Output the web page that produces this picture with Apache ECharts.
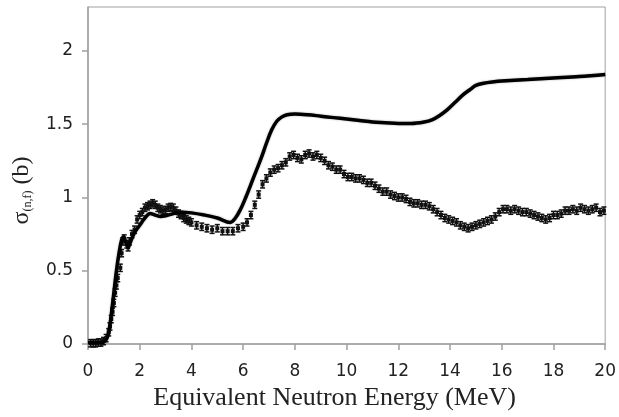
<!DOCTYPE html>
<html>
<head>
<meta charset="utf-8">
<script src="https://cdn.jsdelivr.net/npm/echarts@6/dist/echarts.min.js"></script>
<style>html,body{margin:0;padding:0;background:#fff}#c{width:619px;height:417px}</style>
</head>
<body>
<div id="c"></div>
<script>
// Evaluated cross-section curve (MeV, barn)
const curveE = [0,0.5,0.7,0.8,0.9,1.0,1.1,1.2,1.3,1.38,1.45,1.55,1.65,1.8,2.0,2.2,2.4,2.6,2.8,3.0,3.3,3.6,4.0,4.5,5.0,5.5,5.7,5.9,6.1,6.3,6.5,6.7,6.9,7.1,7.3,7.5,7.7,8.0,8.5,9.0,9.5,10,10.5,11,11.5,12,12.5,13,13.3,13.6,13.9,14.2,14.5,14.8,15.0,15.3,15.7,16,17,18,19,20];
const curveS = [0.01,0.01,0.03,0.08,0.2,0.35,0.5,0.62,0.71,0.73,0.70,0.66,0.70,0.76,0.81,0.86,0.89,0.88,0.87,0.875,0.89,0.90,0.895,0.88,0.86,0.83,0.86,0.92,1.0,1.09,1.18,1.27,1.37,1.46,1.52,1.55,1.565,1.57,1.565,1.555,1.545,1.535,1.525,1.515,1.51,1.505,1.505,1.515,1.53,1.56,1.60,1.65,1.70,1.74,1.765,1.78,1.79,1.795,1.805,1.815,1.825,1.84];

// Measured points with error bars
const expE = [0.1,0.2,0.3,0.4,0.5,0.6,0.7,0.8,0.85,0.9,0.95,1.0,1.05,1.1,1.15,1.25,1.3,1.35,1.4,1.5,1.55,1.6,1.7,1.8,1.9,2.0,2.1,2.2,2.3,2.4,2.5,2.6,2.7,2.8,2.9,3.0,3.1,3.2,3.3,3.4,3.5,3.6,3.7,3.8,3.9,4.0,4.2,4.4,4.6,4.8,5.0,5.2,5.4,5.6,5.8,6.0,6.15,6.3,6.45,6.6,6.75,6.9,7.05,7.2,7.35,7.5,7.65,7.8,7.95,8.1,8.25,8.4,8.55,8.7,8.85,9.0,9.15,9.3,9.45,9.6,9.75,9.9,10.05,10.2,10.35,10.5,10.65,10.8,10.95,11.1,11.25,11.4,11.55,11.7,11.85,12.0,12.15,12.3,12.45,12.6,12.75,12.9,13.05,13.2,13.35,13.5,13.65,13.8,13.95,14.1,14.25,14.4,14.55,14.7,14.85,15.0,15.15,15.3,15.45,15.6,15.75,15.9,16.05,16.2,16.35,16.5,16.65,16.8,16.95,17.1,17.25,17.4,17.55,17.7,17.85,18.0,18.15,18.3,18.45,18.6,18.75,18.9,19.05,19.2,19.35,19.5,19.65,19.8,19.95];
const expS = [0.005,0.005,0.005,0.01,0.01,0.02,0.04,0.08,0.12,0.17,0.22,0.28,0.35,0.40,0.45,0.52,0.62,0.70,0.72,0.68,0.66,0.70,0.75,0.78,0.85,0.88,0.90,0.93,0.94,0.95,0.96,0.95,0.93,0.92,0.91,0.915,0.93,0.935,0.93,0.91,0.89,0.88,0.86,0.85,0.84,0.83,0.81,0.80,0.79,0.78,0.79,0.77,0.77,0.77,0.79,0.80,0.83,0.88,0.95,1.02,1.09,1.13,1.17,1.19,1.20,1.22,1.24,1.28,1.29,1.27,1.26,1.29,1.30,1.28,1.29,1.27,1.25,1.22,1.21,1.19,1.19,1.16,1.14,1.14,1.13,1.13,1.12,1.10,1.10,1.08,1.06,1.04,1.04,1.02,1.01,1.00,1.00,0.99,0.97,0.96,0.96,0.95,0.95,0.94,0.92,0.90,0.88,0.86,0.85,0.84,0.83,0.81,0.80,0.79,0.80,0.81,0.82,0.83,0.84,0.85,0.87,0.90,0.92,0.92,0.91,0.92,0.91,0.90,0.90,0.89,0.88,0.87,0.86,0.85,0.86,0.88,0.88,0.89,0.91,0.91,0.92,0.91,0.93,0.92,0.91,0.92,0.93,0.90,0.91];
const expErr = 0.025;

const xTicks = [0,2,4,6,8,10,12,14,16,18,20];
const yTicks = [0,0.5,1,1.5,2];

const chart = echarts.init(document.getElementById('c'), null, {renderer:'canvas'});
const curveData = curveE.map((e,i)=>[e,curveS[i]]);
const expData = expE.map((e,i)=>[e,expS[i],expErr]);

const axisGrey = '#a0a0a0';
chart.setOption({
  animation:false,
  backgroundColor:'#fff',
  grid:{left:88,right:13,top:7,bottom:73,show:true,borderColor:axisGrey,borderWidth:1,containLabel:false},
  xAxis:{
    type:'value',min:0,max:20,interval:2,
    axisLine:{show:true,lineStyle:{color:axisGrey,width:1.5}},
    axisTick:{show:true,length:6,lineStyle:{color:axisGrey,width:1.5},customValues:xTicks},
    axisLabel:{color:'#222',fontFamily:'DejaVu Sans',fontSize:17,margin:19,customValues:xTicks},
    splitLine:{show:false},
    name:'Equivalent Neutron Energy (MeV)',nameLocation:'middle',nameGap:39,
    nameTextStyle:{fontFamily:'Liberation Serif',fontSize:26,color:'#222',padding:[0,24,0,0]}
  },
  yAxis:{
    type:'value',min:0,max:2.3,interval:0.5,
    axisLine:{show:true,lineStyle:{color:axisGrey,width:1.5}},
    axisTick:{show:true,length:6,lineStyle:{color:axisGrey,width:1.5},customValues:yTicks},
    axisLabel:{color:'#222',fontFamily:'DejaVu Sans',fontSize:17,margin:15,customValues:yTicks},
    splitLine:{show:false},
    name:'{s|σ}{sub|(n,f)}{s| (b)}',nameLocation:'middle',nameGap:54,
    nameTextStyle:{fontFamily:'Liberation Serif',fontSize:24,color:'#222',padding:[0,30,0,0],
      rich:{s:{fontFamily:'Liberation Serif',fontSize:24,color:'#222'},
            sub:{fontFamily:'Liberation Serif',fontSize:12,color:'#222',verticalAlign:'bottom',padding:[8,0,0,0]}}}
  },
  series:[
    {
      type:'custom',
      data:expData,
      z:2,
      renderItem:function(params,api){
        const x=api.value(0), y=api.value(1), e=api.value(2);
        const p=api.coord([x,y]);
        const hi=api.coord([x,y+e]);
        const lo=api.coord([x,y-e]);
        const c='#111';
        return {type:'group',children:[
          {type:'line',shape:{x1:p[0],y1:hi[1],x2:p[0],y2:lo[1]},style:{stroke:c,lineWidth:1.5}},
          {type:'line',shape:{x1:p[0]-2.5,y1:hi[1],x2:p[0]+2.5,y2:hi[1]},style:{stroke:c,lineWidth:1.5}},
          {type:'line',shape:{x1:p[0]-2.5,y1:lo[1],x2:p[0]+2.5,y2:lo[1]},style:{stroke:c,lineWidth:1.5}},
          {type:'rect',shape:{x:p[0]-2,y:p[1]-2,width:4,height:4},style:{fill:c}}
        ]};
      }
    },
    {
      type:'line',data:curveData,smooth:0.35,showSymbol:false,z:3,
      lineStyle:{color:'#000',width:3.5,shadowColor:'rgba(0,0,0,0.35)',shadowBlur:2}
    }
  ]
});
</script>
</body>
</html>
